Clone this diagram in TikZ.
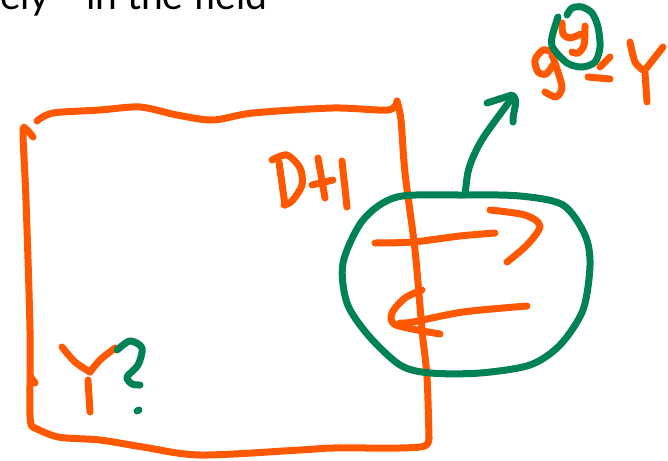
\documentclass[tikz,border=0pt]{standalone}
\usepackage{fontspec}
\setmainfont{Lato}
\definecolor{inkorange}{RGB}{255,88,0}
\definecolor{inkgreen}{RGB}{0,130,84}
\begin{document}
\begin{tikzpicture}[x=1pt,y=-1pt,
  ink/.style={line width=7pt,line cap=round,line join=round},
  orng/.style={ink,draw=inkorange},
  grn/.style={ink,draw=inkgreen}]
\useasboundingbox (0,0) rectangle (668,460);
\clip (0,0) rectangle (668,460);
\node[anchor=base west, inner sep=0, font=\fontsize{39}{46}\selectfont] (caption) at (0,10) {ely\hspace{36pt}in the field};
% rectangle
\draw[orng] plot[smooth] coordinates {(37,121) (53,113) (100,110) (140,107) (177,115) (213,120) (253,113) (333,108) (388,110) (397,101)};
\draw[orng] plot[smooth] coordinates {(397,101) (401,120) (405,173) (415,250) (422,330) (427,377) (429,438)};
\draw[orng] plot[smooth] coordinates {(429,438) (425,446) (400,448) (333,448) (300,450) (200,455) (143,447) (100,440) (58,437) (33,427)};
\draw[orng] plot[smooth] coordinates {(33,427) (30,415) (30,330) (26,200) (23,133) (26,129) (33,137)};
\draw[orng] (30,376) -- (35,383);
% DH
\draw[orng] (279,162) -- (285,205);
\draw[orng] plot[smooth] coordinates {(272,160) (287,155) (300,168) (302,185) (292,201) (284,205)};
\draw[orng] (318,158) -- (325,198);
\draw[orng] (312,185) -- (333,180);
\draw[orng] (342,161) -- (347,207);
% green circle
\draw[grn] plot[smooth cycle] coordinates {(463,195) (520,196) (563,205) (585,235) (590,265) (583,310) (560,345) (530,365) (480,373) (430,373) (400,365) (368,335) (347,303) (343,263) (363,220) (397,197)};
% green arrow
\draw[grn] plot[smooth] coordinates {(465,195) (468,172) (474,155) (485,135) (512,98)};
\draw[grn] (487,103) -- (512,95) .. controls (520,100) and (512,112) .. (513,122);
% orange arrows
\draw[orng] plot[smooth] coordinates {(375,243) (413,242) (460,236) (495,233)};
\draw[orng] plot[smooth] coordinates {(490,210) (525,215) (540,226) (527,245) (507,262)};
\draw[orng] plot[smooth] coordinates {(527,306) (463,312) (413,322) (400,323)};
\draw[orng] plot[smooth] coordinates {(422,290) (405,298) (392,313) (396,325) (440,334)};
% g^y = Y
\draw[orng] plot[smooth] coordinates {(552,52) (543,50) (535,60) (538,72) (546,74) (553,65)};
\draw[orng] plot[smooth] coordinates {(552,55) (558,72) (562,88) (556,97) (545,92)};
\draw[orng] plot[smooth] coordinates {(562,23) (563,34) (570,38) (581,34)};
\draw[orng] plot[smooth] coordinates {(585,26) (584,45) (578,53) (572,52)};
\draw[grn] plot[smooth] coordinates {(567,15) (572,8) (582,7) (592,13) (598,27) (600,47) (595,62) (582,67) (567,63) (553,48) (552,37) (558,17)};
\draw[orng] (600,67) -- (610,57);
\draw[orng] (588,77) -- (610,79);
\draw[orng] plot[smooth] coordinates {(630,42) (635,62) (643,70)};
\draw[orng] (663,47) -- (645,70);
\draw[orng] (645,73) -- (647,102);
% Y?
\draw[orng] plot[smooth] coordinates {(62,347) (75,362) (90,372)};
\draw[orng] plot[smooth] coordinates {(115,348) (100,360) (90,372)};
\draw[orng] (88,380) -- (90,412);
\draw[grn] plot[smooth] coordinates {(117,350) (130,341) (142,348) (138,365) (127,377) (132,384) (140,385)};
\draw[grn] (137,411) -- (139,410);
\end{tikzpicture}
\end{document}
